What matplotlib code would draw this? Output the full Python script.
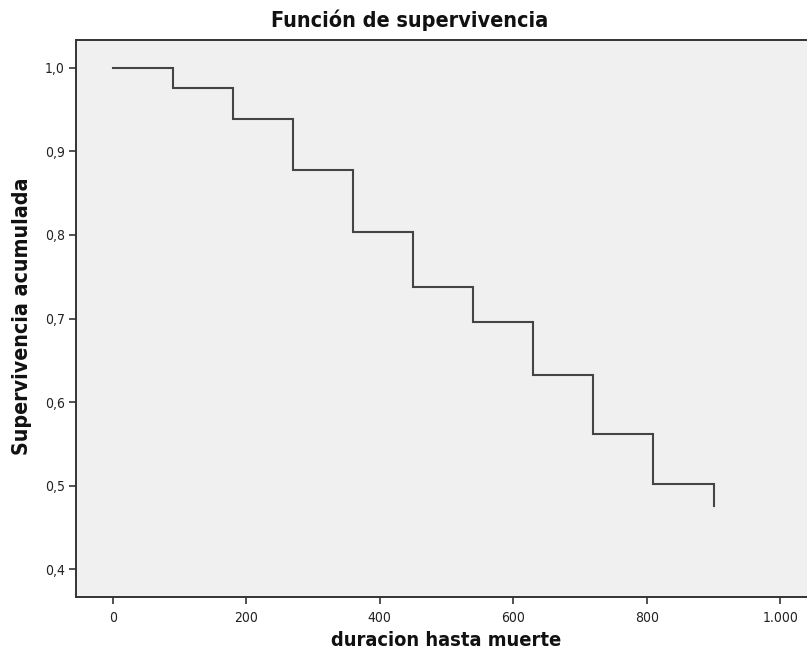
import matplotlib
matplotlib.use("Agg")
import matplotlib.pyplot as plt
from matplotlib.ticker import FuncFormatter

# Kaplan-Meier estimate: event times and cumulative survival after each step
times = [0, 90, 180, 270, 360, 450, 540, 630, 720, 810, 900]
survival = [1.0, 0.976, 0.939, 0.878, 0.803, 0.738, 0.696, 0.632, 0.562, 0.502, 0.475]

x_ticks = [0, 200, 400, 600, 800, 1000]
y_ticks = [0.4, 0.5, 0.6, 0.7, 0.8, 0.9, 1.0]

title = "Función de supervivencia"
x_label = "duracion hasta muerte"
y_label = "Supervivencia acumulada"

W, H = 807, 655
fig = plt.figure(figsize=(W / 100, H / 100), dpi=100)
fig.patch.set_facecolor("white")

# axes box in pixel coordinates (right edge runs past the figure border)
left, right, top, bottom = 76, 817, 40, 597
ax = fig.add_axes([left / W, 1 - bottom / H, (right - left) / W, (bottom - top) / H])
ax.set_facecolor("#f0f0f0")

# survival curve: horizontal until the next event, then a vertical drop
ax.step(times, survival, where="post", color="#444444", linewidth=1.5, solid_joinstyle="miter")

ax.set_xlim(-55, 1055)
ax.set_ylim(0.3665, 1.0335)
ax.set_xticks(x_ticks)
ax.set_yticks(y_ticks)

ax.xaxis.set_major_formatter(FuncFormatter(lambda v, p: f"{int(v):,}".replace(",", ".")))
ax.yaxis.set_major_formatter(FuncFormatter(lambda v, p: f"{v:.1f}".replace(".", ",")))

for lab in ax.get_xticklabels() + ax.get_yticklabels():
    lab.set_fontfamily("DejaVu Sans")
    lab.set_fontstretch("condensed")
    lab.set_fontsize(10)
    lab.set_color("#222222")

ax.tick_params(direction="out", length=5, width=1.2, color="#333333", pad=3)
ax.tick_params(axis="x", pad=5)

for side in ("left", "bottom", "top"):
    ax.spines[side].set_color("#333333")
    ax.spines[side].set_linewidth(1.4)
ax.spines["right"].set_visible(False)

fig.text(410 / W, 1 - 20 / H, title, ha="center", va="center",
         fontsize=15.5, fontweight="bold", family="DejaVu Sans", fontstretch="condensed",
         color="#111111")
fig.text(446 / W, 1 - 640 / H, x_label, ha="center", va="center",
         fontsize=14.4, fontweight="bold", family="DejaVu Sans", fontstretch="condensed",
         color="#111111")
fig.text(22 / W, 1 - 316 / H, y_label, ha="center", va="center", rotation=90,
         fontsize=15.3, fontweight="bold", family="DejaVu Sans", fontstretch="condensed",
         color="#111111")

fig.savefig("out.png", dpi=100)
